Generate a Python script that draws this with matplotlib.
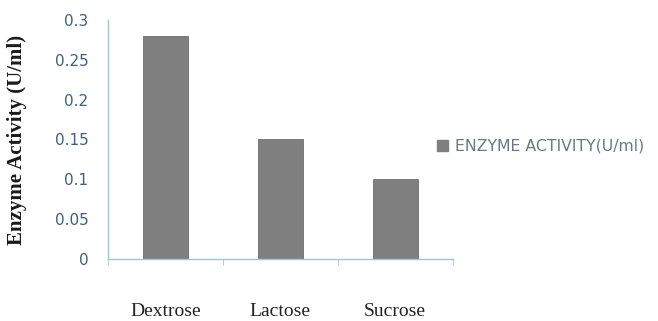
import matplotlib
matplotlib.use("Agg")
import matplotlib.pyplot as plt
from matplotlib.patches import Patch

categories = ["Dextrose", "Lactose", "Sucrose"]
activity = [0.28, 0.15, 0.10]
yticks = [0, 0.05, 0.1, 0.15, 0.2, 0.25, 0.3]
ytick_labels = ["0", "0.05", "0.1", "0.15", "0.2", "0.25", "0.3"]
series_name = "ENZYME ACTIVITY(U/ml)"

bar_color = "#7f7f7f"
axis_color = "#9dc3e2"
tick_text = "#3f5f7c"

fig = plt.figure(figsize=(6.58, 3.21), dpi=100)
ax = fig.add_axes([0.164, 0.193, 0.524, 0.745])

x = list(range(len(categories)))
ax.bar(x, activity, width=0.39, color=bar_color, edgecolor="#6e6e6e", linewidth=0.6)

ax.set_xlim(-0.5, len(categories) - 0.5)
ax.set_ylim(0, 0.3)
ax.set_yticks(yticks)
ax.set_yticklabels(ytick_labels, fontsize=11, color=tick_text, family="DejaVu Sans")
ax.set_xticks(x)
ax.set_xticklabels(categories, fontsize=14, family="Liberation Serif",
                   color="#222222")

# category separators on the x axis
ax.set_xticks([-0.5, 0.5, 1.5, 2.5], minor=True)
ax.tick_params(axis="x", which="major", length=0, pad=32)
ax.tick_params(axis="x", which="minor", length=4, color=axis_color, direction="out")
ax.tick_params(axis="y", length=0, pad=14)

for side in ["top", "right"]:
    ax.spines[side].set_visible(False)
for side in ["left", "bottom"]:
    ax.spines[side].set_color(axis_color)
    ax.spines[side].set_linewidth(1.0)

ax.set_ylabel("Enzyme Activity (U/ml)", fontsize=15, fontweight="bold",
              family="Liberation Serif", color="#1a1a1a")
ax.yaxis.set_label_coords(-0.235, 0.5)

handle = Patch(facecolor=bar_color, edgecolor=bar_color)
fig.legend([handle], [series_name], loc="center left",
           bbox_to_anchor=(0.642, 0.545), frameon=False,
           handlelength=0.7, handleheight=0.7, handletextpad=0.5,
           prop={"family": "DejaVu Sans", "size": 11.3},
           labelcolor="#6a7888")

fig.savefig("out.png", dpi=100)
